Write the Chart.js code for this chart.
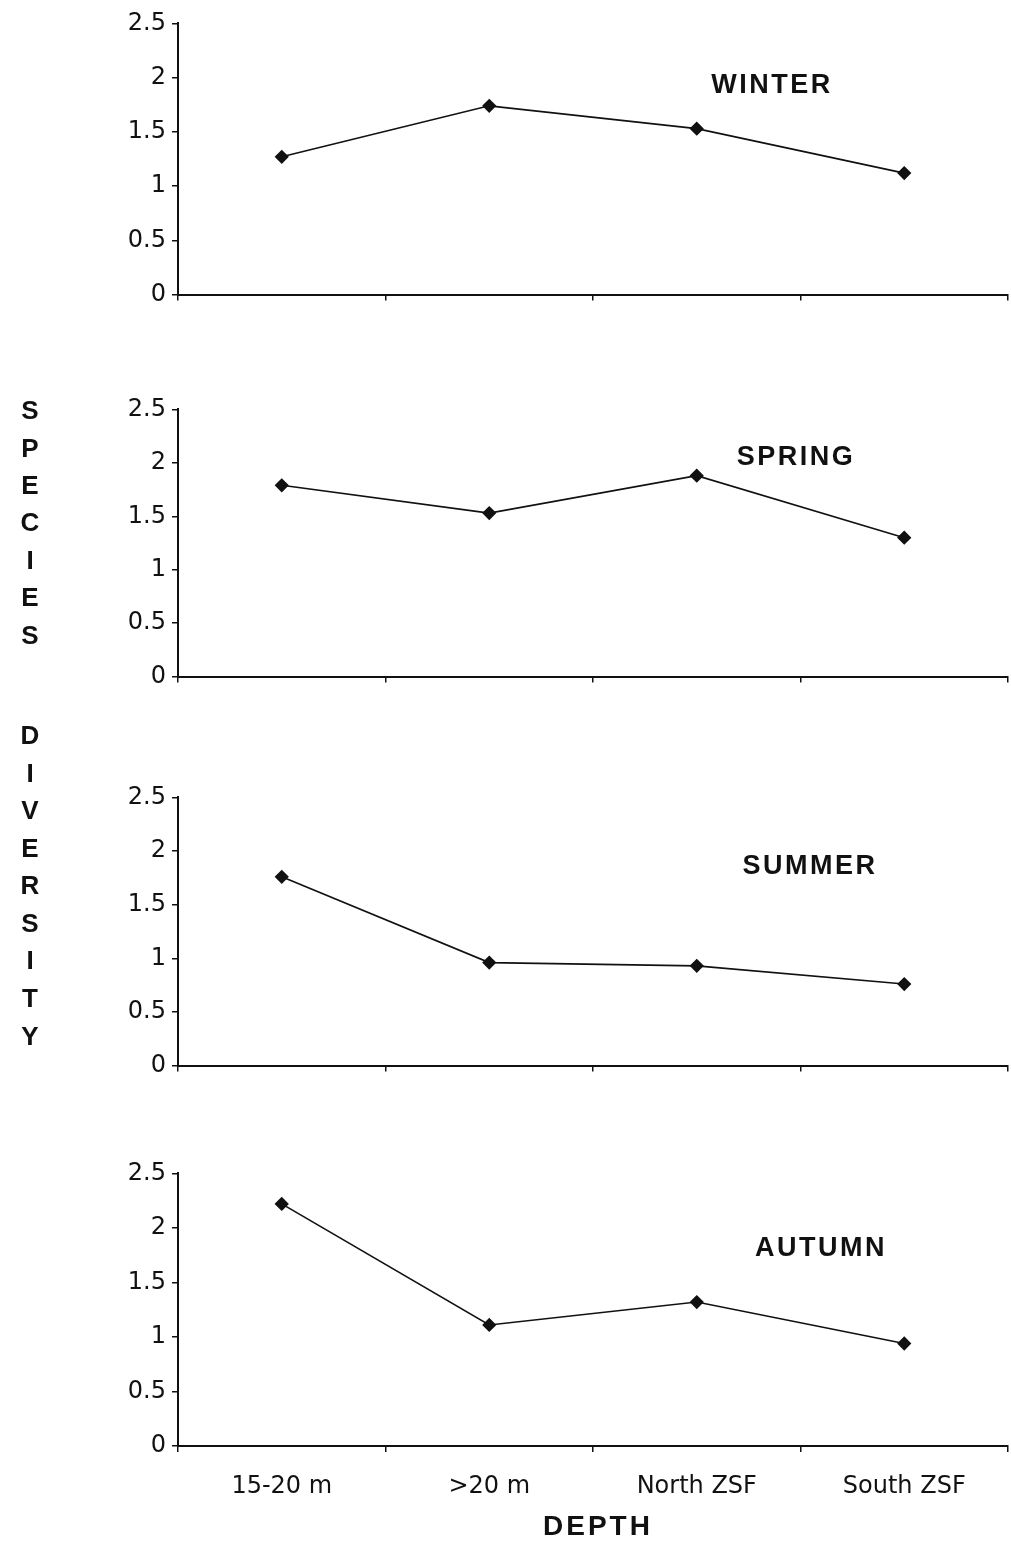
<!DOCTYPE html>
<html>
<head>
<meta charset="utf-8">
<script src="https://cdn.jsdelivr.net/npm/chart.js@4/dist/chart.umd.min.js"></script>
<style>
  html, body { margin: 0; padding: 0; background: #fff; }
  body { width: 1011px; height: 1542px; position: relative; overflow: hidden; }
  .panel { position: absolute; left: 0; width: 1011px; }
  .season { position: absolute; font-family: "Liberation Sans", Arial, sans-serif; font-weight: bold; font-size: 27px; letter-spacing: 2.5px; color: #111; transform: translate(-50%, -50%); white-space: nowrap; }
  .side { position: absolute; left: 30px; font-family: "Liberation Sans", Arial, sans-serif; font-weight: bold; font-size: 26px; color: #111; transform: translate(-50%, -50%); }
  #depth { position: absolute; left: 598px; top: 1526px; font-family: "Liberation Sans", Arial, sans-serif; font-weight: bold; font-size: 28px; letter-spacing: 3px; color: #111; transform: translate(-50%, -50%); }
</style>
</head>
<body>
<script>
const categories = ['15-20 m', '>20 m', 'North ZSF', 'South ZSF'];
const winter = [1.27, 1.74, 1.53, 1.12];
const spring = [1.79, 1.53, 1.88, 1.30];
const summer = [1.76, 0.96, 0.93, 0.76];
const autumn = [2.22, 1.11, 1.32, 0.94];
const yTickValues = [0, 0.5, 1, 1.5, 2, 2.5];
const yTickLabels = ['0', '0.5', '1', '1.5', '2', '2.5'];
const seasonNames = ['WINTER', 'SPRING', 'SUMMER', 'AUTUMN'];
const yAxisTitle = 'SPECIES DIVERSITY';
const xAxisTitle = 'DEPTH';

const panels = [
  { data: winter, top: 23, bottom: 295, name: seasonNames[0], lx: 772, ly: 84, showX: false },
  { data: spring, top: 409, bottom: 677, name: seasonNames[1], lx: 796, ly: 456, showX: false },
  { data: summer, top: 797, bottom: 1066, name: seasonNames[2], lx: 810, ly: 865, showX: false },
  { data: autumn, top: 1173, bottom: 1446, name: seasonNames[3], lx: 821, ly: 1247, showX: true }
];

const PAD_TOP = 20;
panels.forEach((p) => {
  const xH = p.showX ? 70 : 20;
  const h = (p.bottom - p.top) + PAD_TOP + xH;
  const div = document.createElement('div');
  div.className = 'panel';
  div.style.top = (p.top - PAD_TOP) + 'px';
  div.style.height = h + 'px';
  const cv = document.createElement('canvas');
  div.appendChild(cv);
  document.body.appendChild(div);

  new Chart(cv, {
    type: 'line',
    data: {
      labels: categories,
      datasets: [{
        data: p.data,
        borderColor: '#111',
        backgroundColor: '#111',
        borderWidth: 1.6,
        pointStyle: 'rectRot',
        pointRadius: 6,
        pointBackgroundColor: '#111',
        pointBorderColor: '#111',
        tension: 0,
        fill: false
      }]
    },
    options: {
      responsive: true,
      maintainAspectRatio: false,
      animation: false,
      events: [],
      layout: { autoPadding: false, padding: { top: PAD_TOP, right: 3, left: 0, bottom: 0 } },
      plugins: { legend: { display: false }, tooltip: { enabled: false } },
      scales: {
        x: {
          type: 'category',
          offset: true,
          afterFit: (s) => { s.height = xH; },
          grid: { display: true, offset: true, drawOnChartArea: false, drawTicks: true, tickLength: 6, color: '#111', lineWidth: 1.5 },
          border: { display: true, color: '#111', width: 2 },
          ticks: {
            display: p.showX,
            padding: 20,
            color: '#111',
            font: { family: '"DejaVu Sans", sans-serif', size: 24 }
          }
        },
        y: {
          min: 0,
          max: 2.5,
          afterFit: (s) => { s.width = 178; },
          afterBuildTicks: (s) => { s.ticks = yTickValues.map(v => ({ value: v })); },
          grid: { display: true, drawOnChartArea: false, drawTicks: true, tickLength: 6, color: '#111', lineWidth: 1.5 },
          border: { display: true, color: '#111', width: 2 },
          ticks: {
            padding: 6,
            color: '#111',
            font: { family: '"DejaVu Sans", sans-serif', size: 24 },
            callback: (v) => { const i = yTickValues.indexOf(v); return i >= 0 ? yTickLabels[i] : ''; }
          }
        }
      }
    }
  });

  const lab = document.createElement('div');
  lab.className = 'season';
  lab.textContent = p.name;
  lab.style.left = p.lx + 'px';
  lab.style.top = p.ly + 'px';
  document.body.appendChild(lab);
});

// vertical stacked y-axis title
const letterYs = [410, 448, 485, 522, 560, 597, 635, null, 735, 773, 810, 848, 885, 923, 960, 998, 1036];
yAxisTitle.split('').forEach((ch, i) => {
  if (ch === ' ') return;
  const d = document.createElement('div');
  d.className = 'side';
  d.textContent = ch;
  d.style.top = letterYs[i] + 'px';
  document.body.appendChild(d);
});

const dep = document.createElement('div');
dep.id = 'depth';
dep.textContent = xAxisTitle;
document.body.appendChild(dep);
</script>
</body>
</html>
